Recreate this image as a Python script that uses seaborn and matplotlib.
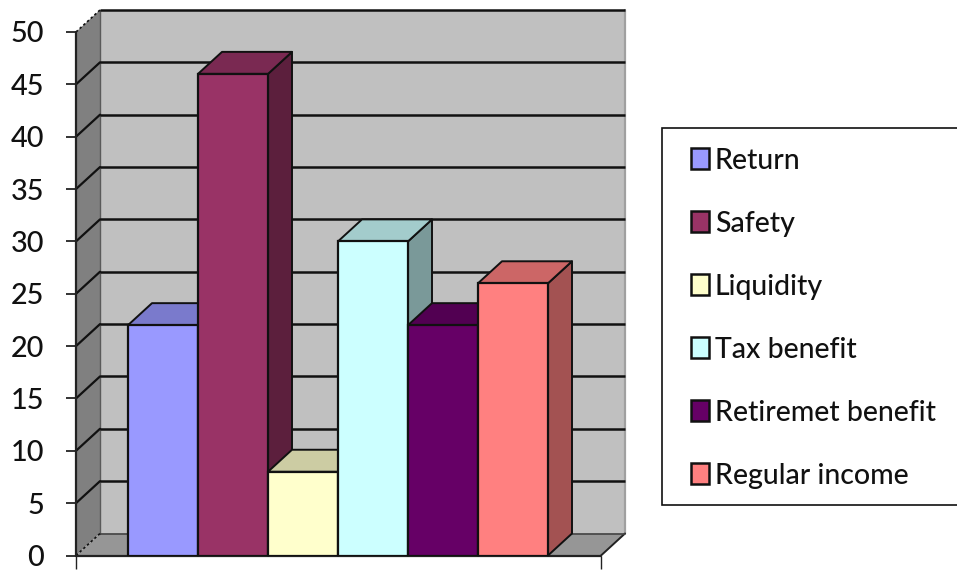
import matplotlib
matplotlib.use("Agg")
import matplotlib.pyplot as plt
import seaborn as sns
import pandas as pd
from matplotlib.patches import Polygon, Rectangle

labels = ["Return", "Safety", "Liquidity", "Tax benefit", "Retiremet benefit", "Regular income"]
values = [22, 46, 8, 30, 22, 26]
front_colors = ["#9999FF", "#993366", "#FFFFCC", "#CCFFFF", "#660066", "#FF8080"]
top_colors = ["#7A7ACC", "#7A2952", "#CCCCA3", "#A3CCCC", "#520052", "#CC6666"]
side_colors = ["#5C5C99", "#5C1F3D", "#99997A", "#7A9999", "#3D003D", "#A35252"]
y_ticks = [0, 5, 10, 15, 20, 25, 30, 35, 40, 45, 50]

W, H = 957, 572
sns.set_theme(style="white")
plt.rcParams["font.family"] = ["Lato", "DejaVu Sans"]

fig = plt.figure(figsize=(W / 100, H / 100), dpi=100, facecolor="white")
L, R, T, B = 76, 601, 32, 555.5
ax = fig.add_axes([L / W, 1 - B / H, (R - L) / W, (B - T) / H])
ax.patch.set_visible(False)

df = pd.DataFrame({"label": labels, "value": values})
sns.barplot(data=df, x="label", y="value", hue="label", palette=front_colors,
            hue_order=labels, order=labels, width=1.0, dodge=False, saturation=1,
            edgecolor="#111111", linewidth=1.6, ax=ax, zorder=10, legend=True)

unit = 70.0
xmin = -0.5 - 52 / unit
xmax = xmin + (R - L) / unit
ax.set_xlim(xmin, xmax)
ax.set_ylim(0, 50)
dx = 24 / unit
dy = 22 / ((B - T) / 50)


def poly(pts, fc, ec="#111111", lw=1.4, z=1):
    ax.add_patch(Polygon(pts, closed=True, facecolor=fc, edgecolor=ec, linewidth=lw,
                         zorder=z, clip_on=False, joinstyle="round"))


# walls and floor
poly([(xmin + dx, dy), (xmax + dx, dy), (xmax + dx, 50 + dy), (xmin + dx, 50 + dy)],
     "#C0C0C0", ec="none", z=1)
poly([(xmin, 0), (xmin + dx, dy), (xmin + dx, 50 + dy), (xmin, 50)], "#808080", ec="none", z=1)
poly([(xmin, 0), (xmin + dx, dy), (xmax + dx, dy), (xmax, 0)], "#969696", ec="none", z=1)

# wall borders
ax.plot([xmax + dx, xmax + dx], [dy, 50 + dy], color="#A0A0A0", lw=1.6, zorder=2, clip_on=False)
ax.plot([xmin + dx, xmin + dx], [dy, 50 + dy], color="#5A5A5A", lw=1.0, zorder=2, clip_on=False)
ax.plot([xmax, xmax + dx], [0, dy], color="#222222", lw=1.4, zorder=2, clip_on=False)
ax.plot([xmin, xmin], [0, 50], color="#222222", lw=1.6, zorder=3, clip_on=False)
ax.plot([xmin, xmax], [0, 0], color="#222222", lw=1.6, zorder=3, clip_on=False)

# gridlines
for v in y_ticks:
    c = "#444444" if v == 0 else "#111111"
    ax.plot([xmin + dx, xmax + dx], [v + dy, v + dy], color=c, lw=1.8 if v else 1.2,
            zorder=2, clip_on=False, solid_capstyle="butt")
    ls = (0, (1.5, 1.5)) if v in (0, 50) else "-"
    ax.plot([xmin, xmin + dx], [v, v + dy], color="#111111", lw=1.6 if ls == "-" else 1.2,
            ls=ls, zorder=2, clip_on=False)

# bar depth faces, painted left to right
for i, v in enumerate(values):
    a, b = i - 0.5, i + 0.5
    poly([(b, 0), (b + dx, dy), (b + dx, v + dy), (b, v)], side_colors[i], z=4 + i * 0.1)
    poly([(a, v), (b, v), (b + dx, v + dy), (a + dx, v + dy)], top_colors[i], z=4 + i * 0.1)

ax.set_xlabel("")
ax.set_ylabel("")
ax.set_xticks([xmin, xmax])
ax.set_xticklabels(["", ""])
ax.set_yticks(y_ticks)
ax.set_yticklabels([str(v) for v in y_ticks], fontsize=20.8, color="#111111", fontweight="medium")
ax.tick_params(axis="y", left=True, length=7.5, width=1.2, color="#111111", pad=15.5)
ax.tick_params(axis="x", bottom=True, length=9.5, width=1.0, color="#222222")
for s in ax.spines.values():
    s.set_visible(False)

handles, lbls = ax.get_legend_handles_labels()
ax.get_legend().remove()

# legend frame runs to the right edge of the image
fig.add_artist(Rectangle((662 / W, 1 - 505 / H), (W + 5 - 662) / W, (505 - 128) / H,
                         transform=fig.transFigure, facecolor="white",
                         edgecolor="#111111", linewidth=1.2, zorder=20))
leg = fig.legend(handles, lbls, loc="upper left",
                 bbox_to_anchor=(691 / W, 1 - 147.5 / H), bbox_transform=fig.transFigure,
                 borderaxespad=0, borderpad=0, frameon=False,
                 prop={"family": "Lato", "size": 20.5, "weight": "medium"}, labelcolor="#111111",
                 handlelength=0.62, handleheight=0.73, handletextpad=0.22,
                 labelspacing=1.30)
leg.set_zorder(21)
for h in leg.legend_handles:
    h.set_edgecolor("#111111")
    h.set_linewidth(1.8)

fig.savefig("out.png", dpi=100, facecolor="white")
